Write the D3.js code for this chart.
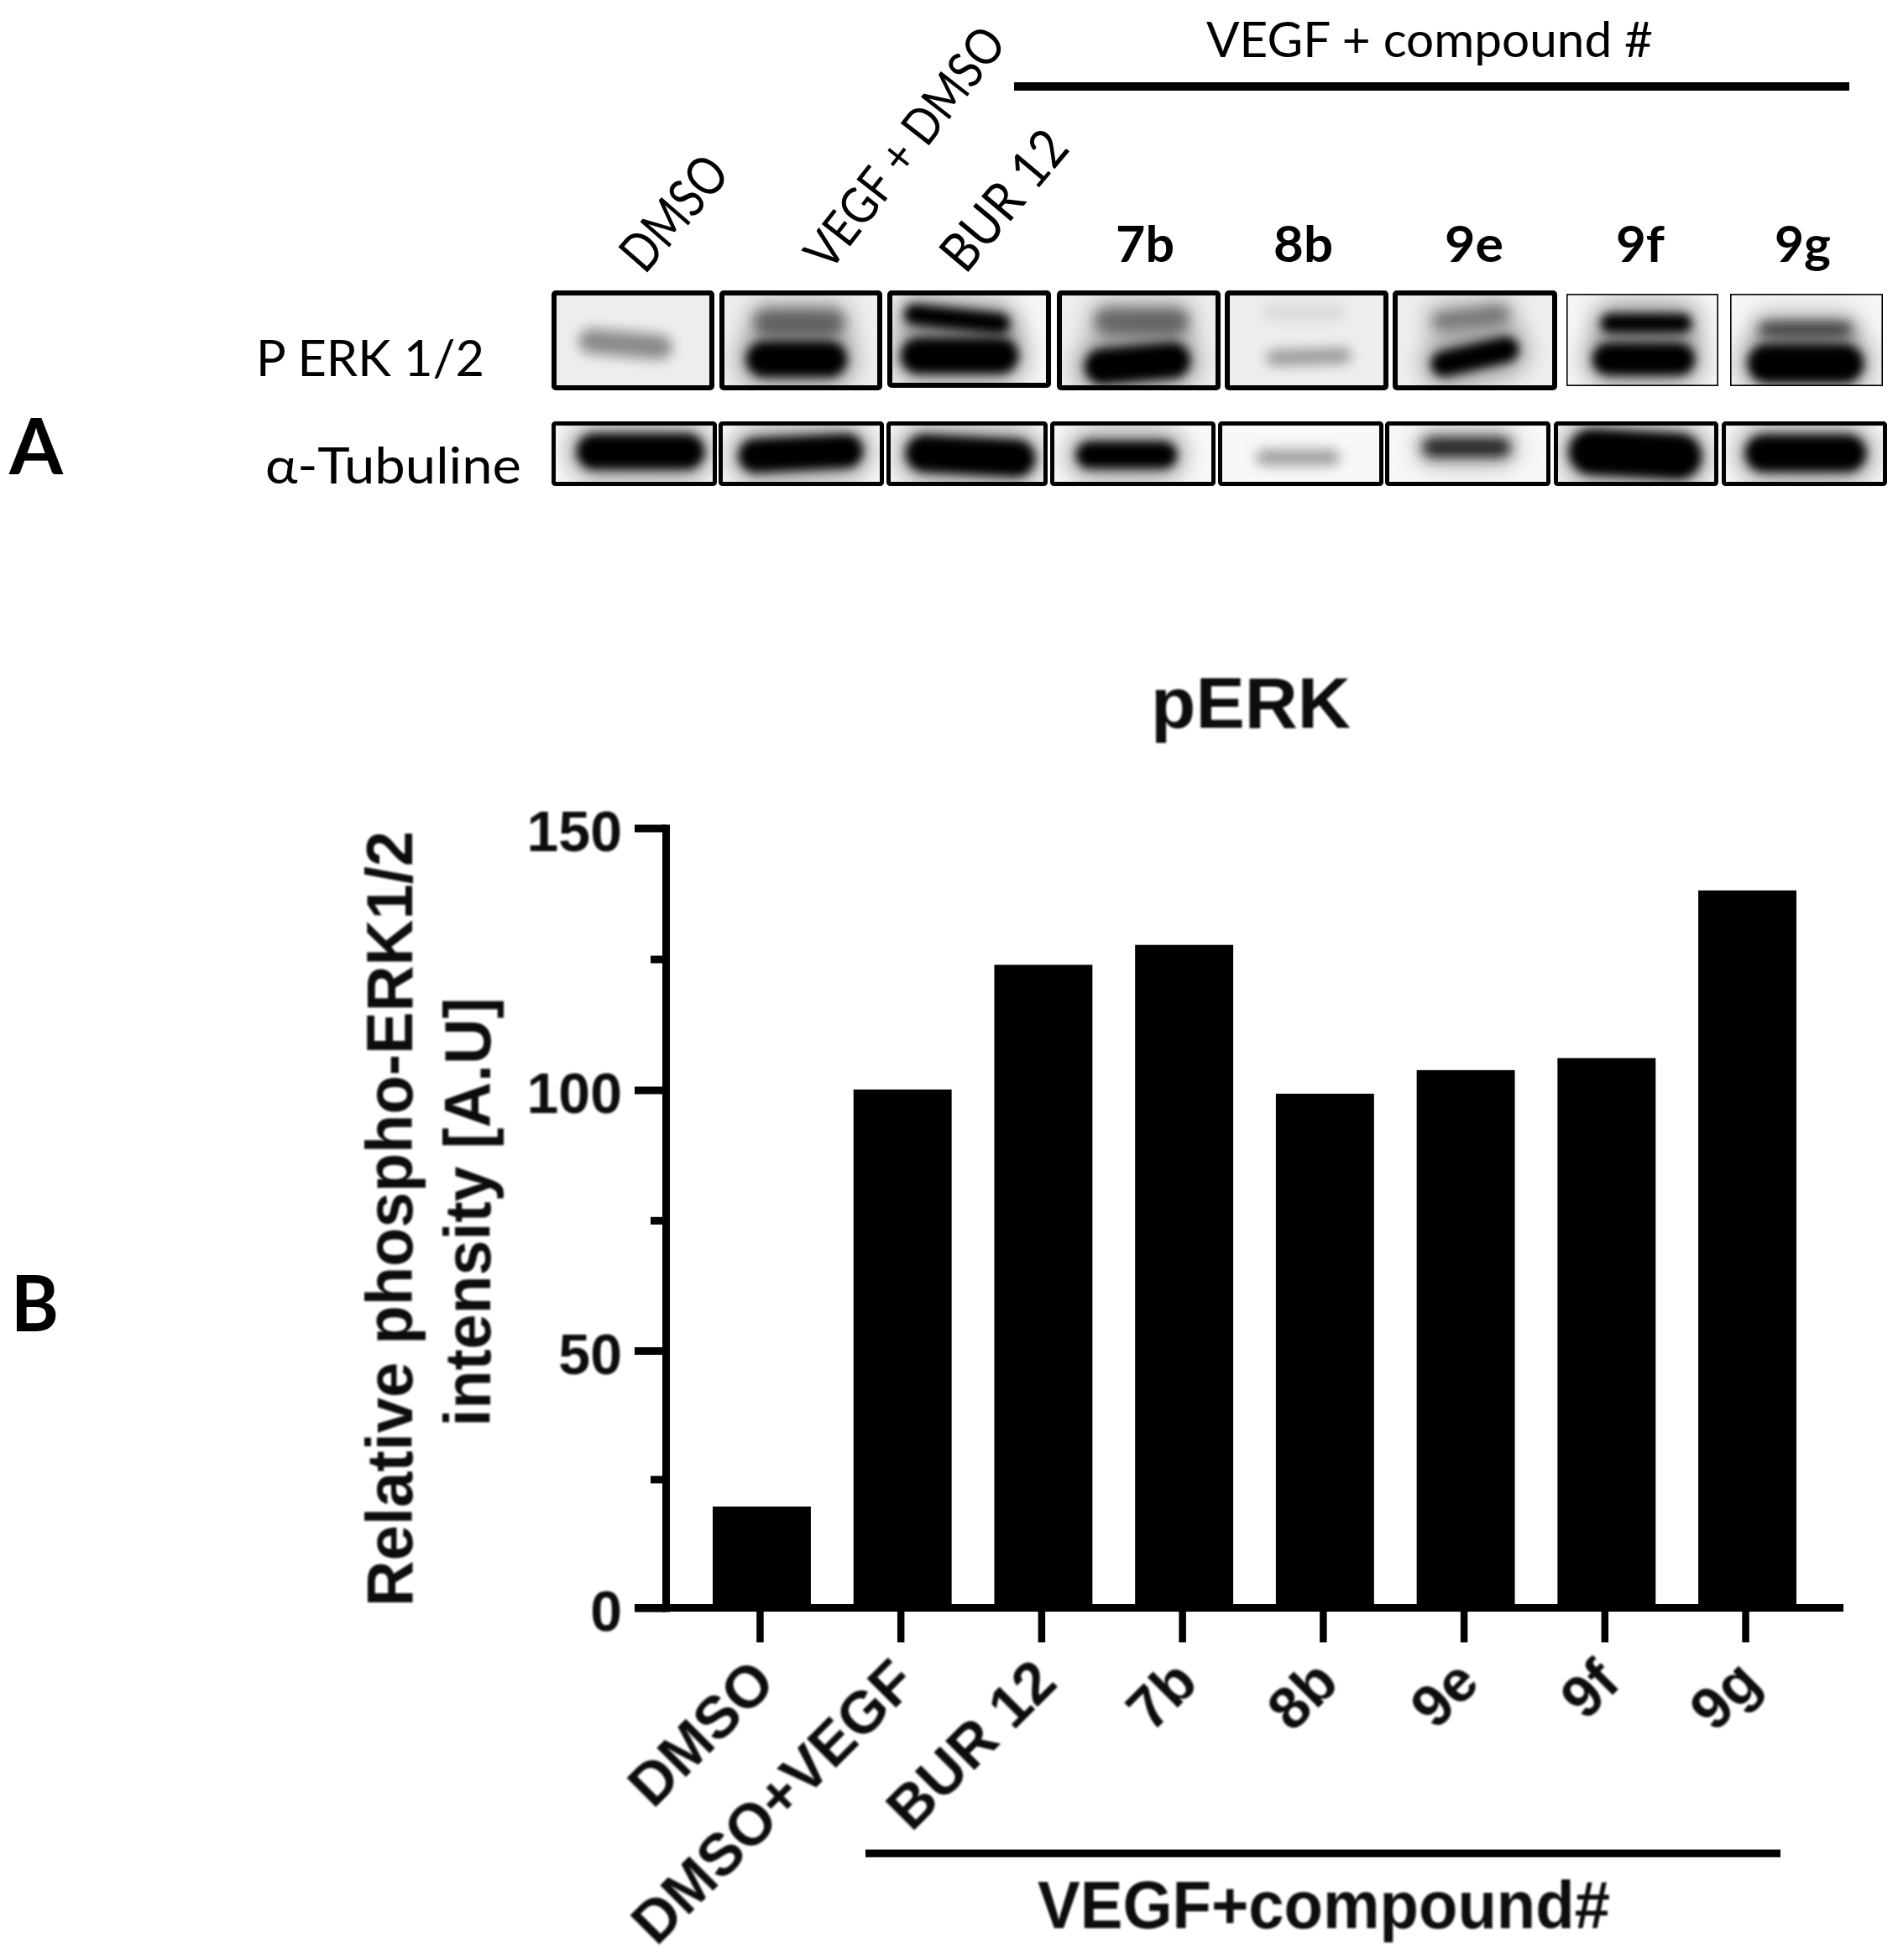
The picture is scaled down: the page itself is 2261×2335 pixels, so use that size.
<!DOCTYPE html>
<html><head><meta charset="utf-8">
<script src="https://cdn.jsdelivr.net/npm/d3@7"></script>
<style>
html,body{margin:0;padding:0;background:#fff}
svg{display:block}
.a{font-family:Lato,"Open Sans",sans-serif;fill:#000}
.b{font-family:"Liberation Sans",Arial,sans-serif;font-weight:bold;fill:#111}
</style></head><body>
<svg id="c" width="2261" height="2335"></svg>
<script>
// ---- data ----
const categories = ["DMSO","DMSO+VEGF","BUR 12","7b","8b","9e","9f","9g"];
const values = [19.7,100.1,123.9,127.7,99.3,103.8,106.1,138.1];
const majorTicks = [0,50,100,150];
const minorTicks = [25,75,125];
const laneLabels = ["DMSO","VEGF + DMSO","BUR 12","7b","8b","9e","9f","9g"];
const perkUpperShade = [0,0.55,1,0.55,0.08,0.5,0.96,0.7];
const perkLowerShade = [0.42,1,1,1,0.38,1,1,1];
const tubulinShade = [1,1,1,1,0.36,0.85,1,1];

// ---- layout of the blot panels (image-like, not chart values) ----
const perkPanels = [[657,851,6],[857,1051,6],[1057,1252,6],[1259,1454,6],[1459,1654,6],[1659,1855,6],[1866,2047,1.6],[2061,2243,1.6]];
const perkTop = [346,346,346,346,346,346,350,350], perkBot=[465,465,462,465,465,465,460,460];
const tubPanels = [[657,854],[856,1053],[1056,1248],[1251,1448],[1451,1648],[1650,1847],[1851,2047],[2051,2248]];
const upper = [[745,410,56,15,5],[952,383,54,15,0],[1140,380,63,12,6],[1360,382,56,15,0],[1554,372,50,11,0],[1752,378,46,10,-7],[1961,385,54,11,0],[2151,392,56,9,0]];
const lower = [[745,410,0,0,0],[949,428,60,21,0],[1143,424,70,21,0],[1355,433,63,21,-5],[1559,425,51,9,-2],[1757,425,53,15,-13],[1958,428,61,19,0],[2151,433,69,23,0]];
const tub = [[763,538,76,21,0],[954,540,74,20,-3],[1156,543,77,22,3],[1342,542,60,16,0],[1546,545,50,9,0],[1747,533,53,12,0],[1948,541,79,27,3],[2151,540,72,22,0]];

const svg = d3.select("#c");
const defs = svg.append("defs");
[["b5",6],["b8",7.5],["b16",14]].forEach(([id,s])=>{
  defs.append("filter").attr("id",id).attr("x","-60%").attr("y","-120%").attr("width","220%").attr("height","340%")
    .append("feGaussianBlur").attr("stdDeviation",s);
});
const soft = defs.append("filter").attr("id","soft").attr("x","-5%").attr("y","-5%").attr("width","110%").attr("height","110%");
soft.append("feGaussianBlur").attr("stdDeviation",0.8);

const grey = d3.scaleLinear().domain([0,1]).range(["#eeeeee","#000000"]);

function panel(i,x0,x1,y0,y1,sw,bg,shapes){
  const id="clip"+i;
  defs.append("clipPath").attr("id",id).append("rect").attr("x",x0).attr("y",y0).attr("width",x1-x0).attr("height",y1-y0);
  const g=svg.append("g");
  g.append("rect").attr("x",x0).attr("y",y0).attr("width",x1-x0).attr("height",y1-y0).attr("fill",bg);
  const c=g.append("g").attr("clip-path",`url(#${id})`);
  shapes.forEach(s=>{
    const [cx,cy,rx,ry,rot]=s.g;
    if(!rx) return;
    const f=c.append("g").attr("transform",`rotate(${rot} ${cx} ${cy})`);
    const box=(sel,ex,ey)=>sel.attr("x",cx-rx-ex).attr("y",cy-ry-ey).attr("width",2*(rx+ex)).attr("height",2*(ry+ey)).attr("rx",ry+ey).attr("ry",ry+ey);
    if(s.v>0.45) box(f.append("rect"),10,14).attr("fill","#000").attr("opacity",s.v>0.9?0.36:0.2).attr("filter","url(#b16)");
    box(f.append("rect"),0,0).attr("fill",s.v>0.95?"#000":grey(s.v)).attr("filter",s.v>0.95?"url(#b5)":"url(#b8)");
  });
  g.append("rect").attr("x",x0).attr("y",y0).attr("width",x1-x0).attr("height",y1-y0)
    .attr("rx",sw>3?2:0).attr("fill","none").attr("stroke","#000").attr("stroke-width",sw);
}
perkPanels.forEach((p,i)=>{
  panel("p"+i,p[0]+p[2]/2,p[1]-p[2]/2,perkTop[i]+p[2]/2,perkBot[i]-p[2]/2,p[2],i>5||i==2?"#f6f6f6":"#eeeeee",
    [{g:upper[i],v:i==0?perkLowerShade[0]:perkUpperShade[i]},{g:lower[i],v:perkLowerShade[i]}]);
});
tubPanels.forEach((p,i)=>{
  panel("t"+i,p[0]+2.5,p[1]-2.5,504.5,576.5,5,"#f8f8f8",[{g:tub[i],v:tubulinShade[i]}]);
});

// ---- panel A text ----
const A=(t,x,y,size,weight,len)=>{
  const e=svg.append("text").attr("class","a").attr("x",x).attr("y",y).attr("font-size",size).attr("font-weight",weight).text(t);
  if(len) e.attr("textLength",len).attr("lengthAdjust","spacingAndGlyphs");
  return e;
};
A("VEGF + compound #",1437,68,59,400,532);
svg.append("line").attr("x1",1208).attr("x2",2203).attr("y1",103).attr("y2",103).attr("stroke","#000").attr("stroke-width",10);
A(laneLabels[0],768,328,64,400,158).attr("transform","rotate(-49 768 328)");
A(laneLabels[1],988,325,60,400,346).attr("transform","rotate(-52 988 325)");
A(laneLabels[2],1150,328,64,400,196).attr("transform","rotate(-50 1150 328)");
const laneX=[1329,1517,1721,1925,2114], laneW=[70,71,70,58,67];
laneLabels.slice(3).forEach((t,i)=>A(t,laneX[i],312,60,700,laneW[i]));
A("P ERK 1/2",305,448,60,400,272);
A("α-Tubuline",316,576,60,400,305);
A("A",11,565,92,700,64);
A("B",13,1586,92,700,57);

// ---- panel B chart ----
const x=d3.scaleBand().domain(categories).range([849,2140]).paddingInner(0.303).paddingOuter(0);
const y=d3.scaleLinear().domain([0,50,100,150]).range([1915.5,1609,1298.6,986.5]);

svg.append("g").selectAll("rect").data(values).join("rect")
  .attr("x",(d,i)=>x(categories[i])).attr("width",x.bandwidth())
  .attr("y",d=>y(d)).attr("height",d=>y(0)-y(d)).attr("fill","#000");

const yAxis=svg.append("g").attr("transform","translate(793,0)")
  .call(d3.axisLeft(y).tickValues(majorTicks).tickSize(37).tickSizeOuter(0).tickPadding(15));
yAxis.select(".domain").attr("stroke","#000").attr("stroke-width",9).attr("stroke-linecap","square");
yAxis.selectAll(".tick line").attr("stroke","#000").attr("stroke-width",9);
yAxis.selectAll(".tick text").attr("class","b").attr("font-size",68).attr("font-family",null).attr("dy","0.4em").attr("filter","url(#soft)");
const yMinor=svg.append("g").attr("transform","translate(793,0)")
  .call(d3.axisLeft(y).tickValues(minorTicks).tickSize(18).tickSizeOuter(0).tickFormat(""));
yMinor.select(".domain").remove();
yMinor.selectAll(".tick line").attr("stroke","#000").attr("stroke-width",9);

svg.append("line").attr("x1",756).attr("x2",2196).attr("y1",y(0)).attr("y2",y(0)).attr("stroke","#000").attr("stroke-width",9);
const xAxis=svg.append("g").attr("transform",`translate(-2,${y(0)})`)
  .call(d3.axisBottom(x).tickSize(41).tickSizeOuter(0).tickPadding(0));
xAxis.select(".domain").remove();
xAxis.selectAll(".tick line").attr("stroke","#000").attr("stroke-width",8.5);
xAxis.selectAll(".tick text").attr("class","b").attr("font-size",70).attr("font-family",null)
  .attr("text-anchor","end").attr("y",0).attr("dy",0)
  .attr("transform","translate(21,92) rotate(-45)").attr("filter","url(#soft)");

const B=(t,tx,ty,size,len,rot)=>{
  const e=svg.append("text").attr("class","b").attr("text-anchor","middle").attr("font-size",size)
    .attr("transform",`translate(${tx},${ty}) rotate(${rot||0})`).attr("filter","url(#soft)").text(t);
  if(len) e.attr("textLength",len).attr("lengthAdjust","spacingAndGlyphs");
};
B("pERK",1490,867,86,238);
B("Relative phospho-ERK1/2",491,1452,78,924,-90);
B("intensity [A.U]",584,1444,78,511,-90);
svg.append("line").attr("x1",1031).attr("x2",2121).attr("y1",2208).attr("y2",2208).attr("stroke","#000").attr("stroke-width",9);
B("VEGF+compound#",1577,2297,80,682);
</script></body></html>
